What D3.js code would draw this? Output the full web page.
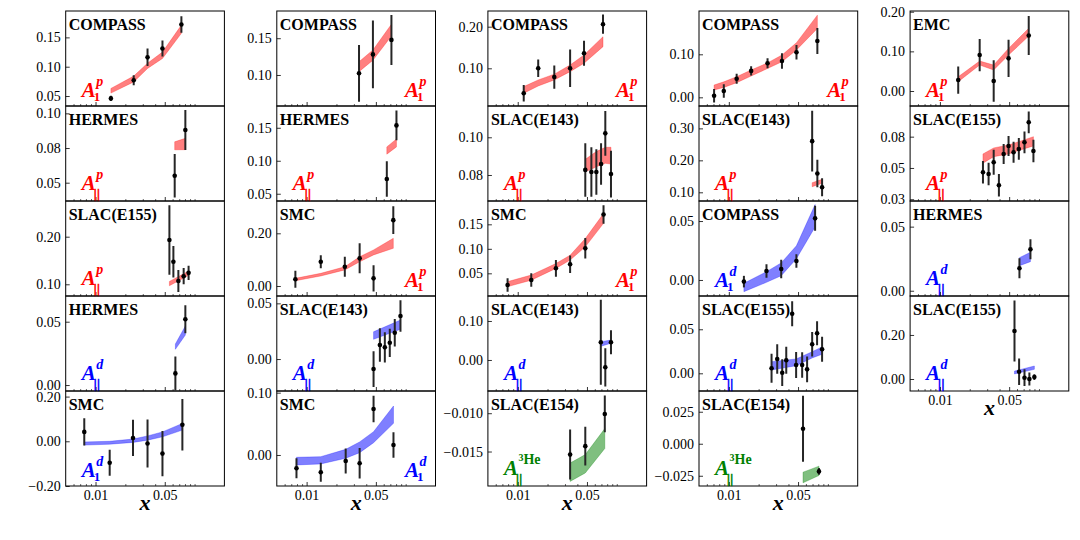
<!DOCTYPE html>
<html>
<head>
<meta charset="utf-8">
<script src="https://cdn.jsdelivr.net/npm/d3@7"></script>
<style>
  body { margin: 0; background: #fff; }
</style>
</head>
<body>
<div id="chart"></div>
<script>
// ---- data: points are [x, value, error], bands are [x, low, high] ----

// column 1
const c1_compass_A1p = [[0.0143,0.046,0.0045],[0.0243,0.077,0.0085],[0.0335,0.116,0.015],[0.0474,0.131,0.0136],[0.0736,0.172,0.014]];
const c1_compass_A1p_band = [[0.0143,0.055,0.063],[0.0243,0.074,0.084],[0.0335,0.097,0.106],[0.0474,0.114,0.125],[0.0736,0.157,0.171]];
const c1_hermes_Apar_p = [[0.063,0.055,0.0156],[0.0807,0.088,0.0144]];
const c1_hermes_Apar_p_band = [[0.063,0.0737,0.0795],[0.0807,0.0738,0.082]];
const c1_e155_Apar_p = [[0.0557,0.193,0.073],[0.0611,0.1475,0.033],[0.0686,0.107,0.023],[0.0776,0.117,0.017],[0.087,0.124,0.015]];
const c1_e155_Apar_p_band = [[0.0557,0.097,0.106],[0.0776,0.113,0.122],[0.087,0.119,0.128]];
const c1_hermes_Apar_d = [[0.064,0.0092,0.0134],[0.0807,0.0519,0.011]];
const c1_hermes_Apar_d_band = [[0.064,0.0282,0.0324],[0.0807,0.0395,0.0466]];
const c1_smc_A1d = [[0.0077,0.042,0.061],[0.0139,-0.096,0.058],[0.0239,0.015,0.081],[0.0335,-0.010,0.107],[0.0474,-0.055,0.101],[0.0753,0.074,0.115]];
const c1_smc_A1d_band = [[0.0077,-0.017,-0.003],[0.0139,-0.013,0.0],[0.0239,-0.005,0.01],[0.0335,0.005,0.024],[0.0474,0.02,0.042],[0.0753,0.05,0.08]];

// column 2
const c2_compass_A1p = [[0.0338,0.1023,0.0386],[0.0467,0.128,0.046],[0.0718,0.1477,0.034]];
const c2_compass_A1p_band = [[0.0338,0.1045,0.118],[0.0467,0.120,0.134],[0.0718,0.153,0.169]];
const c2_hermes_Apar_p = [[0.0645,0.0723,0.027],[0.0807,0.1536,0.0227]];
const c2_hermes_Apar_p_band = [[0.0645,0.110,0.121],[0.0807,0.121,0.133]];
const c2_smc_A1p = [[0.0077,0.0254,0.032],[0.0139,0.092,0.025],[0.0243,0.073,0.038],[0.0343,0.105,0.057],[0.0474,0.029,0.05],[0.075,0.25,0.053]];
const c2_smc_A1p_band = [[0.0077,0.020,0.029],[0.0139,0.038,0.048],[0.0243,0.061,0.073],[0.0343,0.092,0.111],[0.0474,0.118,0.137],[0.075,0.143,0.181]];
const c2_e143_Apar_d = [[0.0474,-0.009,0.016],[0.0549,0.0126,0.015],[0.0616,0.0105,0.0135],[0.0691,0.0146,0.0127],[0.0776,0.0236,0.0124],[0.0886,0.0386,0.0142]];
const c2_e143_Apar_d_band = [[0.0474,0.0177,0.0245],[0.0886,0.0267,0.035]];
const c2_smc_A1d = [[0.0079,-0.0213,0.016],[0.0139,-0.0278,0.0152],[0.0248,-0.0096,0.020],[0.0343,-0.0133,0.0246],[0.0474,0.0738,0.0214],[0.0753,0.016,0.0206]];
const c2_smc_A1d_band = [[0.0079,-0.016,-0.0037],[0.0139,-0.0144,-0.0027],[0.0248,-0.0053,0.009],[0.0343,0.0037,0.021],[0.0474,0.0197,0.0374],[0.0753,0.0508,0.0786]];

// column 3
const c3_compass_A1p = [[0.0115,0.04,0.020],[0.0161,0.10,0.021],[0.0234,0.079,0.028],[0.0338,0.10,0.045],[0.0467,0.136,0.030],[0.0726,0.206,0.023]];
const c3_compass_A1p_band = [[0.0115,0.04,0.056],[0.0161,0.0575,0.072],[0.0234,0.072,0.086],[0.0338,0.092,0.108],[0.0467,0.112,0.132],[0.0726,0.152,0.176]];
const c3_e143_Apar_p = [[0.0481,0.0827,0.0142],[0.0554,0.0816,0.0131],[0.0622,0.0816,0.0121],[0.0694,0.0858,0.011],[0.0766,0.1021,0.0119],[0.0874,0.0805,0.0124]];
const c3_e143_Apar_p_band = [[0.0481,0.0818,0.0883],[0.0554,0.083,0.0906],[0.0622,0.0844,0.0924],[0.0694,0.0853,0.0936],[0.0766,0.0862,0.0947],[0.0874,0.0858,0.0947]];
const c3_smc_A1p = [[0.0079,0.0261,0.0137],[0.0137,0.0363,0.0137],[0.0243,0.0602,0.017],[0.0338,0.0684,0.018],[0.0481,0.101,0.021],[0.0735,0.170,0.019]];
const c3_smc_A1p_band = [[0.0079,0.0227,0.033],[0.0137,0.036,0.0465],[0.0243,0.06,0.07],[0.0338,0.077,0.087],[0.0481,0.104,0.121],[0.0735,0.152,0.172]];
const c3_e143_Apar_d = [[0.069,0.0454,0.109],[0.0766,-0.0187,0.049],[0.0874,0.0454,0.031]];
const c3_e143_Apar_d_band = [[0.069,0.035,0.047],[0.0874,0.043,0.051]];
const c3_e154_Apar_he = [[0.0338,-0.0154,0.00326],[0.0481,-0.0143,0.00254],[0.0757,-0.0101,0.0024]];
const c3_e154_Apar_he_band = [[0.0338,-0.0189,-0.0165],[0.0481,-0.0178,-0.0154],[0.0757,-0.0146,-0.012]];

// column 4
const c4_compass_A1p = [[0.0071,0.0037,0.0155],[0.0089,0.0147,0.0155],[0.012,0.0433,0.0116],[0.0168,0.0614,0.0109],[0.0246,0.0791,0.0116],[0.0344,0.0844,0.0179],[0.0482,0.1047,0.0167],[0.0783,0.131,0.03]];
const c4_compass_A1p_band = [[0.0071,0.017,0.0286],[0.0089,0.023,0.036],[0.012,0.034,0.048],[0.0168,0.0495,0.0635],[0.0246,0.067,0.080],[0.0344,0.0828,0.0984],[0.0482,0.11,0.127],[0.0783,0.16,0.191]];
const c4_e143_Apar_p = [[0.0694,0.260,0.095],[0.0783,0.159,0.043],[0.0874,0.1156,0.028]];
const c4_e143_Apar_p_band = [[0.0694,0.1175,0.13],[0.0874,0.128,0.1406]];
const c4_compass_A1d = [[0.0142,-0.0014,0.0049],[0.024,0.0076,0.0057],[0.0338,0.0093,0.0078],[0.0481,0.0161,0.0057],[0.0743,0.0523,0.0106]];
const c4_compass_A1d_band = [[0.0142,-0.0099,-0.0028],[0.024,-0.002,0.007],[0.0338,0.0036,0.0145],[0.0481,0.018,0.029],[0.0743,0.045,0.064]];
const c4_e155_Apar_d = [[0.027,0.0057,0.0165],[0.0308,0.0163,0.0167],[0.0346,0.0007,0.0152],[0.038,0.0148,0.0153],[0.0436,0.0677,0.0142],[0.0478,0.0094,0.0148],[0.055,0.0094,0.0144],[0.0617,0.0045,0.0146],[0.0694,0.033,0.0138],[0.0778,0.0455,0.0136],[0.0874,0.0273,0.0142]];
const c4_e155_Apar_d_band = [[0.027,0.0038,0.0132],[0.0478,0.0086,0.0163],[0.0694,0.0175,0.0245],[0.0874,0.0216,0.030]];
const c4_e154_Apar_he = [[0.0561,0.0117,0.0258],[0.0813,-0.0216,0.0026]];
const c4_e154_Apar_he_band = [[0.0561,-0.0305,-0.0222],[0.0813,-0.0248,-0.0175]];

// column 5
const c5_emc_A1p = [[0.0153,0.0277,0.0344],[0.0252,0.0907,0.0407],[0.0349,0.0252,0.0525],[0.0493,0.0824,0.047],[0.0788,0.140,0.049]];
const c5_emc_A1p_band = [[0.0153,0.0234,0.036],[0.0252,0.0655,0.0756],[0.0349,0.053,0.0655],[0.0493,0.0907,0.1075],[0.0788,0.1385,0.158]];
const c5_e155_Apar_p = [[0.0272,0.0516,0.009],[0.031,0.0502,0.009],[0.0349,0.0596,0.010],[0.0394,0.0412,0.009],[0.044,0.0662,0.008],[0.0493,0.0726,0.008],[0.0554,0.0675,0.0084],[0.0626,0.0702,0.0087],[0.0714,0.0755,0.0087],[0.0788,0.0915,0.0087],[0.0879,0.0686,0.009]];
const c5_e155_Apar_p_band = [[0.0272,0.0588,0.0662],[0.0349,0.064,0.071],[0.0493,0.0662,0.0734],[0.0626,0.069,0.076],[0.0879,0.0726,0.080]];
const c5_hermes_Apar_d = [[0.0635,0.0175,0.0078],[0.082,0.0323,0.0078]];
const c5_hermes_Apar_d_band = [[0.0635,0.0195,0.0258],[0.082,0.0227,0.030]];
const c5_e155_Apar_d = [[0.0566,0.218,0.138],[0.063,0.033,0.0606],[0.0714,0.006,0.038],[0.080,0.0,0.03],[0.0898,0.009,0.013]];
const c5_e155_Apar_d_band = [[0.0566,0.023,0.036],[0.0898,0.044,0.059]];

// x axis
const xMajor = [0.01, 0.05];
const xMajorLabels = ["0.01", "0.05"];
const xMinor = [0.006,0.007,0.008,0.009,0.02,0.03,0.04,0.06,0.07,0.08,0.09,0.1];

// panel table: obs "1" = A_1, "par" = A_parallel; ticks are [value, label]
const panels = [
  {col:0,row:0,title:"COMPASS",obs:"1",target:"p",pts:c1_compass_A1p,band:c1_compass_A1p_band,yd:[0.033,0.195],ticks:[[0.05,"0.05"],[0.10,"0.10"],[0.15,"0.15"]],right:false},
  {col:0,row:1,title:"HERMES",obs:"par",target:"p",pts:c1_hermes_Apar_p,band:c1_hermes_Apar_p_band,yd:[0.0368,0.1053],ticks:[[0.05,"0.05"],[0.075,"0.08"],[0.10,"0.10"]],right:false},
  {col:0,row:2,title:"SLAC(E155)",obs:"par",target:"p",pts:c1_e155_Apar_p,band:c1_e155_Apar_p_band,yd:[0.0754,0.275],ticks:[[0.10,"0.10"],[0.20,"0.20"]],right:false},
  {col:0,row:3,title:"HERMES",obs:"par",target:"d",pts:c1_hermes_Apar_d,band:c1_hermes_Apar_d_band,yd:[-0.0047,0.0703],ticks:[[0,"0.00"],[0.05,"0.05"]],right:false},
  {col:0,row:4,title:"SMC",obs:"1",target:"d",pts:c1_smc_A1d,band:c1_smc_A1d_band,yd:[-0.2,0.225],ticks:[[-0.2,"\u22120.20"],[0,"0.00"],[0.2,"0.20"]],right:false},

  {col:1,row:0,title:"COMPASS",obs:"1",target:"p",pts:c2_compass_A1p,band:c2_compass_A1p_band,yd:[0.0578,0.187],ticks:[[0.10,"0.10"],[0.15,"0.15"]],right:true},
  {col:1,row:1,title:"HERMES",obs:"par",target:"p",pts:c2_hermes_Apar_p,band:c2_hermes_Apar_p_band,yd:[0.039,0.183],ticks:[[0.05,"0.05"],[0.10,"0.10"],[0.15,"0.15"]],right:false},
  {col:1,row:2,title:"SMC",obs:"1",target:"p",pts:c2_smc_A1p,band:c2_smc_A1p_band,yd:[-0.038,0.3226],ticks:[[0,"0.00"],[0.2,"0.20"]],right:true},
  {col:1,row:3,title:"SLAC(E143)",obs:"par",target:"d",pts:c2_e143_Apar_d,band:c2_e143_Apar_d_band,yd:[-0.0287,0.0566],ticks:[[0,"0.00"],[0.05,"0.05"]],right:false},
  {col:1,row:4,title:"SMC",obs:"1",target:"d",pts:c2_smc_A1d,band:c2_smc_A1d_band,yd:[-0.0498,0.1027],ticks:[[0,"0.00"],[0.1,"0.10"]],right:true},

  {col:2,row:0,title:"COMPASS",obs:"1",target:"p",pts:c3_compass_A1p,band:c3_compass_A1p_band,yd:[0.0094,0.2377],ticks:[[0.1,"0.10"],[0.2,"0.20"]],right:true},
  {col:2,row:1,title:"SLAC(E143)",obs:"par",target:"p",pts:c3_e143_Apar_p,band:c3_e143_Apar_p_band,yd:[0.0662,0.1166],ticks:[[0.08,"0.08"],[0.10,"0.10"]],right:false},
  {col:2,row:2,title:"SMC",obs:"1",target:"p",pts:c3_smc_A1p,band:c3_smc_A1p_band,yd:[0.0037,0.1976],ticks:[[0.05,"0.05"],[0.10,"0.10"],[0.15,"0.15"]],right:true},
  {col:2,row:3,title:"SLAC(E143)",obs:"par",target:"d",pts:c3_e143_Apar_d,band:c3_e143_Apar_d_band,yd:[-0.0795,0.164],ticks:[[0,"0.00"],[0.1,"0.10"]],right:false},
  {col:2,row:4,title:"SLAC(E154)",obs:"par",target:"3He",pts:c3_e154_Apar_he,band:c3_e154_Apar_he_band,yd:[-0.0195,-0.0071],ticks:[[-0.015,"\u22120.015"],[-0.010,"\u22120.010"]],right:false},

  {col:3,row:0,title:"COMPASS",obs:"1",target:"p",pts:c4_compass_A1p,band:c4_compass_A1p_band,yd:[-0.0202,0.2007],ticks:[[0,"0.00"],[0.1,"0.10"]],right:true},
  {col:3,row:1,title:"SLAC(E143)",obs:"par",target:"p",pts:c4_e143_Apar_p,band:c4_e143_Apar_p_band,yd:[0.0728,0.37],ticks:[[0.1,"0.10"],[0.2,"0.20"],[0.3,"0.30"]],right:false},
  {col:3,row:2,title:"COMPASS",obs:"1",target:"d",pts:c4_compass_A1d,band:c4_compass_A1d_band,yd:[-0.0136,0.067],ticks:[[0,"0.00"],[0.05,"0.05"]],right:false},
  {col:3,row:3,title:"SLAC(E155)",obs:"par",target:"d",pts:c4_e155_Apar_d,band:c4_e155_Apar_d_band,yd:[-0.0201,0.0878],ticks:[[0,"0.00"],[0.05,"0.05"]],right:false},
  {col:3,row:4,title:"SLAC(E154)",obs:"par",target:"3He",pts:c4_e154_Apar_he,band:c4_e154_Apar_he_band,yd:[-0.033,0.0412],ticks:[[-0.025,"\u22120.025"],[0,"0.000"],[0.025,"0.025"]],right:false},

  {col:4,row:0,title:"EMC",obs:"1",target:"p",pts:c5_emc_A1p,band:c5_emc_A1p_band,yd:[-0.0378,0.2018],ticks:[[0,"0.00"],[0.1,"0.10"],[0.2,"0.20"]],right:false},
  {col:4,row:1,title:"SLAC(E155)",obs:"par",target:"p",pts:c5_e155_Apar_p,band:c5_e155_Apar_p_band,yd:[0.0286,0.1045],ticks:[[0.03,"0.03"],[0.055,"0.05"],[0.08,"0.08"]],right:false},
  {col:4,row:2,title:"HERMES",obs:"par",target:"d",pts:c5_hermes_Apar_d,band:c5_hermes_Apar_d_band,yd:[-0.0041,0.070],ticks:[[0,"0.00"],[0.05,"0.05"]],right:false},
  {col:4,row:3,title:"SLAC(E155)",obs:"par",target:"d",pts:c5_e155_Apar_d,band:c5_e155_Apar_d_band,yd:[-0.0545,0.377],ticks:[[0,"0.00"],[0.2,"0.20"]],right:false}
];
const lastRow = [4, 4, 4, 4, 3];

// ---- layout ----
const W = 1080, H = 540;
const left0 = 65.7, colStep = 211.1, top0 = 11;
const pw = 158.7, ph = 95;
const colors = { p: "#ff0000", d: "#0000ff", "3He": "#008000" };
const serif = "'Liberation Serif', 'Times New Roman', serif";

const svg = d3.select("#chart").append("svg")
  .attr("width", W).attr("height", H)
  .style("background", "#fff");

const x = d3.scaleLog().domain([0.005, 0.2]).range([0, pw]);

// A_1^p, A_||^d, A_||^3He written as stacked sub/superscripts
function drawLabel(g, p) {
  const color = colors[p.target];
  const isPar = p.obs === "par";
  const base = ph - (isPar ? 11 : 9);
  const lab = g.append("g").attr("fill", color)
    .attr("font-family", serif).attr("font-weight", "bold");

  const A = lab.append("text").attr("y", base)
    .attr("font-size", 21).attr("font-style", "italic").text("A");
  const aw = A.node().getComputedTextLength();

  const sup = lab.append("text").attr("y", base - 11.5).attr("font-size", 14);
  if (p.target === "3He") {
    sup.append("tspan").attr("font-size", 10).attr("dy", -3).text("3");
    sup.append("tspan").attr("dy", 3).text("He");
  } else {
    sup.attr("font-style", "italic").text(p.target);
  }
  const sub = lab.append("text");
  if (isPar) {
    // the two bars, thickened with a same-colour stroke
    sub.attr("y", base + 7.5).attr("font-size", 13)
      .attr("letter-spacing", 0.4)
      .attr("stroke", color).attr("stroke-width", 0.5)
      .text("||");
  } else {
    sub.attr("y", base + 3.5).attr("font-size", 13).text("1");
  }
  const supW = sup.node().getComputedTextLength();
  const subW = sub.node().getComputedTextLength();
  const total = aw + Math.max(supW + 0.5, subW - 2);
  const x0 = p.right ? pw - 9 - total : 16;
  A.attr("x", x0);
  sup.attr("x", x0 + aw + 0.5);
  sub.attr("x", x0 + aw - 2);
}

panels.forEach((p, i) => {
  const g = svg.append("g")
    .attr("transform", `translate(${left0 + p.col * colStep},${top0 + p.row * ph})`);
  const y = d3.scaleLinear().domain(p.yd).range([ph, 0]);
  const color = colors[p.target];

  const clipId = "clip" + i;
  g.append("clipPath").attr("id", clipId)
    .append("rect").attr("width", pw).attr("height", ph);
  const plot = g.append("g").attr("clip-path", `url(#${clipId})`);

  // theory band
  const area = d3.area()
    .x(d => x(d[0]))
    .y0(d => y(d[1]))
    .y1(d => y(d[2]));
  plot.append("path").datum(p.band)
    .attr("d", area)
    .attr("fill", color).attr("fill-opacity", 0.5)
    .attr("stroke", color).attr("stroke-opacity", 0.35).attr("stroke-width", 0.8);

  // data with error bars
  plot.selectAll("line.err").data(p.pts).join("line")
    .attr("class", "err")
    .attr("x1", d => x(d[0])).attr("x2", d => x(d[0]))
    .attr("y1", d => y(d[1] - d[2])).attr("y2", d => y(d[1] + d[2]))
    .attr("stroke", "#262626").attr("stroke-width", 2);
  plot.selectAll("circle").data(p.pts).join("circle")
    .attr("cx", d => x(d[0])).attr("cy", d => y(d[1]))
    .attr("r", 2.3).attr("fill", "#000");

  // y axis, ticks inward
  const yAxis = d3.axisLeft(y)
    .tickValues(p.ticks.map(t => t[0]))
    .tickFormat((d, k) => p.ticks[k][1])
    .tickSizeInner(-4).tickSizeOuter(0).tickPadding(5);
  g.append("g").call(yAxis)
    .attr("font-family", serif).attr("font-size", 14)
    .call(a => a.select(".domain").remove())
    .call(a => a.selectAll("line").attr("stroke-width", 0.8));

  // x axis, major + minor ticks inward
  const showX = p.row === lastRow[p.col];
  const xAxis = d3.axisBottom(x)
    .tickValues(xMajor)
    .tickFormat((d, k) => showX ? xMajorLabels[k] : "")
    .tickSizeInner(-4).tickSizeOuter(0).tickPadding(4);
  g.append("g").attr("transform", `translate(0,${ph})`).call(xAxis)
    .attr("font-family", serif).attr("font-size", 14)
    .call(a => a.select(".domain").remove())
    .call(a => a.selectAll("line").attr("stroke-width", 0.8));
  const xMinorAxis = d3.axisBottom(x)
    .tickValues(xMinor).tickFormat("")
    .tickSizeInner(-2).tickSizeOuter(0);
  g.append("g").attr("transform", `translate(0,${ph})`).call(xMinorAxis)
    .call(a => a.select(".domain").remove())
    .call(a => a.selectAll("line").attr("stroke-width", 0.6));

  // frame
  g.append("rect").attr("width", pw).attr("height", ph)
    .attr("fill", "none").attr("stroke", "#000").attr("stroke-width", 1);

  // experiment name
  g.append("text").attr("x", 3).attr("y", 19)
    .attr("font-family", serif).attr("font-weight", "bold").attr("font-size", 16)
    .text(p.title);

  drawLabel(g, p);

  if (showX) {
    g.append("text").attr("x", pw / 2).attr("y", ph + 24)
      .attr("text-anchor", "middle")
      .attr("font-family", serif).attr("font-weight", "bold")
      .attr("font-style", "italic").attr("font-size", 22)
      .text("x");
  }
});
</script>
</body>
</html>
